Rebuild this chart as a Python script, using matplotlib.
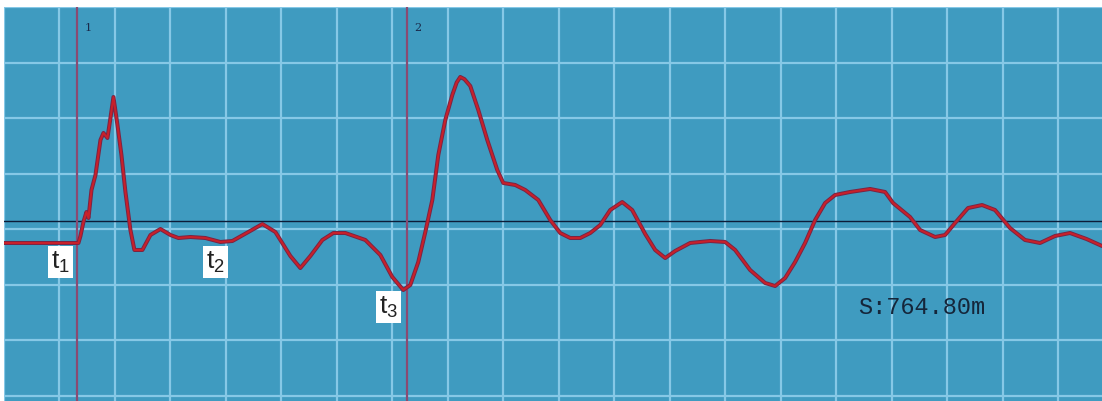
import matplotlib
matplotlib.use('Agg')
import matplotlib.pyplot as plt
import matplotlib.patheffects as pe
import numpy as np

# trace, in grid divisions (x: time div, y: amplitude div)
trace_x = [0.0, 1.342, 1.378, 1.432, 1.486, 1.523, 1.577, 1.649, 1.739, 1.793,
           1.865, 1.919, 1.973, 2.045, 2.117, 2.189, 2.279, 2.351, 2.495, 2.640,
           2.820, 3.000, 3.144, 3.360, 3.631, 3.901, 4.117, 4.405, 4.658, 4.892,
           5.162, 5.342, 5.523, 5.739, 5.937, 6.153, 6.514, 6.784, 7.000, 7.198,
           7.324, 7.468, 7.595, 7.721, 7.829, 7.955, 8.081, 8.160, 8.225, 8.300, 8.405, 8.550,
           8.712, 8.892, 9.000, 9.216, 9.396, 9.631, 9.847, 10.027, 10.207, 10.387,
           10.568, 10.748, 10.928, 11.144, 11.324, 11.559, 11.739, 11.919, 12.099, 12.369,
           12.730, 13.000, 13.180, 13.450, 13.721, 13.901, 14.081, 14.261, 14.441, 14.622,
           14.802, 14.982, 15.252, 15.613, 15.883, 16.027, 16.333, 16.514, 16.784, 16.964,
           17.144, 17.378, 17.631, 17.865, 18.135, 18.405, 18.676, 18.946, 19.216, 19.514,
           19.793]
trace_y = [-0.252, -0.252, -0.126, 0.126, 0.306, 0.198, 0.703, 0.973, 1.604, 1.730,
           1.640, 2.000, 2.378, 1.874, 1.333, 0.667, -0.018, -0.378, -0.378, -0.108,
           0.000, -0.108, -0.162, -0.144, -0.162, -0.234, -0.216, -0.054, 0.090, -0.054,
           -0.486, -0.703, -0.486, -0.198, -0.072, -0.072, -0.198, -0.468, -0.865, -1.099,
           -1.009, -0.595, -0.054, 0.523, 1.333, 1.964, 2.414, 2.640, 2.739, 2.700, 2.577, 2.144,
           1.604, 1.063, 0.829, 0.793, 0.703, 0.523, 0.162, -0.072, -0.162, -0.162,
           -0.072, 0.072, 0.342, 0.486, 0.342, -0.090, -0.378, -0.523, -0.396, -0.252,
           -0.216, -0.234, -0.378, -0.739, -0.973, -1.027, -0.883, -0.595, -0.252, 0.162,
           0.468, 0.613, 0.667, 0.721, 0.667, 0.468, 0.216, -0.018, -0.144, -0.108,
           0.108, 0.378, 0.432, 0.342, 0.018, -0.198, -0.252, -0.126, -0.072, -0.180,
           -0.306]

ref_level = 0.144
cursor_x = [1.324, 7.270]
cursor_names = ['1', '2']

markers = ['1', '2', '3']
marker_x = [1.018, 3.81, 6.928]
marker_y = [-0.595, -0.595, -1.405]

distance_text = 'S:764.80m'

fig = plt.figure(figsize=(11.02, 4.01), dpi=100, facecolor='white')
ax = fig.add_axes([4 / 1102, 0, 1098 / 1102, 394 / 401])
ax.set_facecolor('#3f9bc0')
ax.set_xlim(0, 19.793)
ax.set_ylim(-3.099, 4.0)

# screen grid
for gx in np.arange(0, 20):
    ax.axvline(gx, color='#86c8e6', lw=1.6, zorder=1)
for gy in np.arange(-3, 5):
    ax.axhline(gy, color='#86c8e6', lw=1.6, zorder=1)

ax.axhline(ref_level, color='#0c1c38', lw=1.0, zorder=2)

for cx, name in zip(cursor_x, cursor_names):
    ax.axvline(cx, color='#8a4a72', lw=1.6, zorder=3)
    ax.text(cx + 0.13, 3.62, name, fontsize=8, color='#1a2a4a',
            family='DejaVu Serif', va='center', ha='left', zorder=5)

ax.plot(trace_x, trace_y, color='#c8202a', lw=1.5, zorder=4,
        solid_joinstyle='round', solid_capstyle='round',
        path_effects=[pe.Stroke(linewidth=2.9, foreground='#7a2444'), pe.Normal()])

for m, mx, my in zip(markers, marker_x, marker_y):
    ax.text(mx, my, r'$\mathregular{t_%s}$' % m, fontsize=19, color='#222222',
            family='Liberation Sans', ha='center', va='center', zorder=6,
            bbox=dict(boxstyle='square,pad=0.12', fc='white', ec='none'))

ax.text(15.40, -1.42, distance_text, fontsize=17, color='#15263a',
        family='Liberation Mono', ha='left', va='center', zorder=6)

ax.set_xticks([])
ax.set_yticks([])
for s in ax.spines.values():
    s.set_visible(False)

fig.savefig('out.png', dpi=100, facecolor='white')
